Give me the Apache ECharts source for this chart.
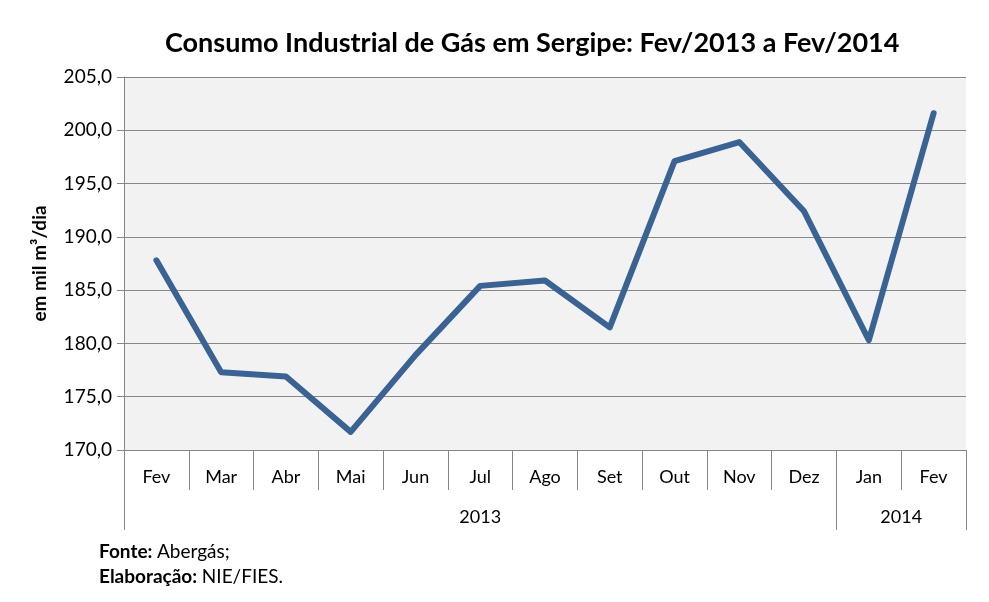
<!DOCTYPE html>
<html>
<head>
<meta charset="utf-8">
<script src="https://cdn.jsdelivr.net/npm/echarts@6/dist/echarts.min.js"></script>
<style>
  html, body { margin: 0; padding: 0; background: #fff; }
  #chart { width: 989px; height: 602px; }
</style>
</head>
<body>
<div id="chart"></div>
<script>
var months = ['Fev', 'Mar', 'Abr', 'Mai', 'Jun', 'Jul', 'Ago', 'Set', 'Out', 'Nov', 'Dez', 'Jan', 'Fev'];
var consumo = [187.8, 177.3, 176.9, 171.7, 178.9, 185.4, 185.9, 181.5, 197.1, 198.9, 192.4, 180.3, 201.6];
var years = ['2013', '2014'];
var yearBounds = [0, 11, 13];   // where each year starts/ends, in month slots
var yearCenters = [5.5, 12];

(function () {
    var gray = '#868686';
    var font = 'Lato, "Open Sans", sans-serif';

    var option = {
        backgroundColor: '#fff',
        textStyle: { fontFamily: font },
        title: [{
            text: 'Consumo Industrial de Gás em Sergipe: Fev/2013 a Fev/2014',
            left: 160,
            top: 25,
            textStyle: { fontSize: 27, fontWeight: 'bold', color: '#000', fontFamily: font }
        }, {
            text: '{b|Fonte:} {n|Abergás;}\n{b|Elaboração:} {n|NIE/FIES.}',
            left: 94,
            top: 534,
            textStyle: {
                fontSize: 19, color: '#000', fontFamily: font, lineHeight: 25,
                rich: {
                    b: { fontWeight: 'bold', fontSize: 19, fontFamily: font, color: '#000', lineHeight: 25 },
                    n: { fontWeight: 'normal', fontSize: 19, fontFamily: font, color: '#000', lineHeight: 25 }
                }
            }
        }],
        grid: {
            left: 124,
            right: 23,
            top: 77,
            bottom: 152,
            show: true,
            backgroundColor: '#f2f2f2',
            borderWidth: 0
        },
        xAxis: [{
            type: 'category',
            data: months,
            boundaryGap: true,
            axisLine: { lineStyle: { color: gray } },
            axisTick: { show: true, interval: 0, length: 40, lineStyle: { color: gray } },
            axisLabel: { interval: 0, color: '#000', fontSize: 18, margin: 18 }
        }, {
            type: 'value',
            min: 0,
            max: 13,
            position: 'bottom',
            axisLine: { show: false },
            splitLine: { show: false },
            axisTick: { show: true, customValues: yearBounds, length: 80, lineStyle: { color: gray } },
            axisLabel: {
                customValues: yearCenters,
                color: '#000',
                fontSize: 18,
                margin: 58,
                formatter: function (v) {
                    return years[yearCenters.indexOf(v)];
                }
            }
        }],
        yAxis: {
            type: 'value',
            min: 170,
            max: 205,
            interval: 5,
            name: 'em mil m³/dia',
            nameLocation: 'middle',
            nameGap: 75,
            nameTextStyle: { fontSize: 19, fontWeight: 'bold', color: '#000' },
            axisLine: { show: true, lineStyle: { color: gray } },
            axisTick: { show: true, length: 7, lineStyle: { color: gray } },
            axisLabel: {
                color: '#000',
                fontSize: 19,
                margin: 12,
                formatter: function (v) { return v.toFixed(1).replace('.', ','); }
            },
            splitLine: { lineStyle: { color: gray, width: 1 } }
        },
        series: [{
            type: 'line',
            data: consumo,
            symbol: 'none',
            lineStyle: { color: '#3a6292', width: 6, join: 'round', cap: 'round' }
        }]
    };

    var chart = echarts.init(document.getElementById('chart'));
    chart.setOption(option);
})();
</script>
</body>
</html>
